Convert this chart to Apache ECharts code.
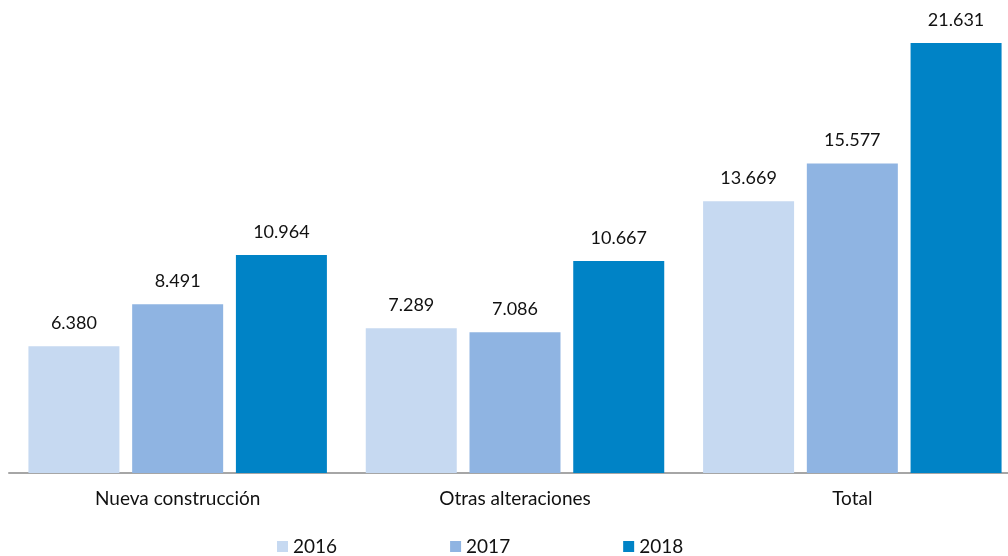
<!DOCTYPE html>
<html>
<head>
<meta charset="utf-8">
<script src="https://cdn.jsdelivr.net/npm/echarts@6/dist/echarts.min.js"></script>
<style>
  html, body { margin: 0; padding: 0; background: #fff; }
  #main { width: 1008px; height: 556px; }
</style>
</head>
<body>
<div id="main"></div>
<script>
var categories = ['Nueva construcción', 'Otras alteraciones', 'Total'];
var years = ['2016', '2017', '2018'];
var v2016 = [6.380, 7.289, 13.669];
var v2017 = [8.491, 7.086, 15.577];
var v2018 = [10.964, 10.667, 21.631];
var colors = ['#c6d9f1', '#8fb4e2', '#0083c6'];

var chart = echarts.init(document.getElementById('main'));

function fmt(p) {
  // spanish thousands style: 6.380
  return p.value.toFixed(3);
}

function makeSeries(name, data, color) {
  return {
    name: name,
    type: 'bar',
    data: data,
    barWidth: 91,
    barGap: '14%',
    itemStyle: { color: color },
    label: {
      show: true,
      position: 'top',
      distance: 14,
      formatter: fmt,
      fontFamily: 'Lato',
      fontSize: 18,
      color: '#111'
    }
  };
}

var option = {
  animation: false,
  textStyle: { fontFamily: 'Lato' },
  grid: {
    left: 9,
    width: 1012,
    top: 0,
    bottom: 83,
    outerBoundsMode: 'none'
  },
  legend: {
    left: 277,
    top: 537,
    padding: 0,
    itemWidth: 11,
    itemHeight: 11,
    itemGap: 113,
    icon: 'rect',
    textStyle: { fontFamily: 'Lato', fontSize: 19, color: '#111' },
    data: years
  },
  xAxis: {
    type: 'category',
    data: categories,
    axisLine: { lineStyle: { color: '#a6a6a6', width: 2 } },
    axisTick: { show: false },
    axisLabel: { fontFamily: 'Lato', fontSize: 19, color: '#111', margin: 16 }
  },
  yAxis: {
    type: 'value',
    min: 0,
    max: 23.8,
    show: false,
    splitLine: { show: false }
  },
  series: [
    makeSeries(years[0], v2016, colors[0]),
    makeSeries(years[1], v2017, colors[1]),
    makeSeries(years[2], v2018, colors[2])
  ]
};

chart.setOption(option);
</script>
</body>
</html>
